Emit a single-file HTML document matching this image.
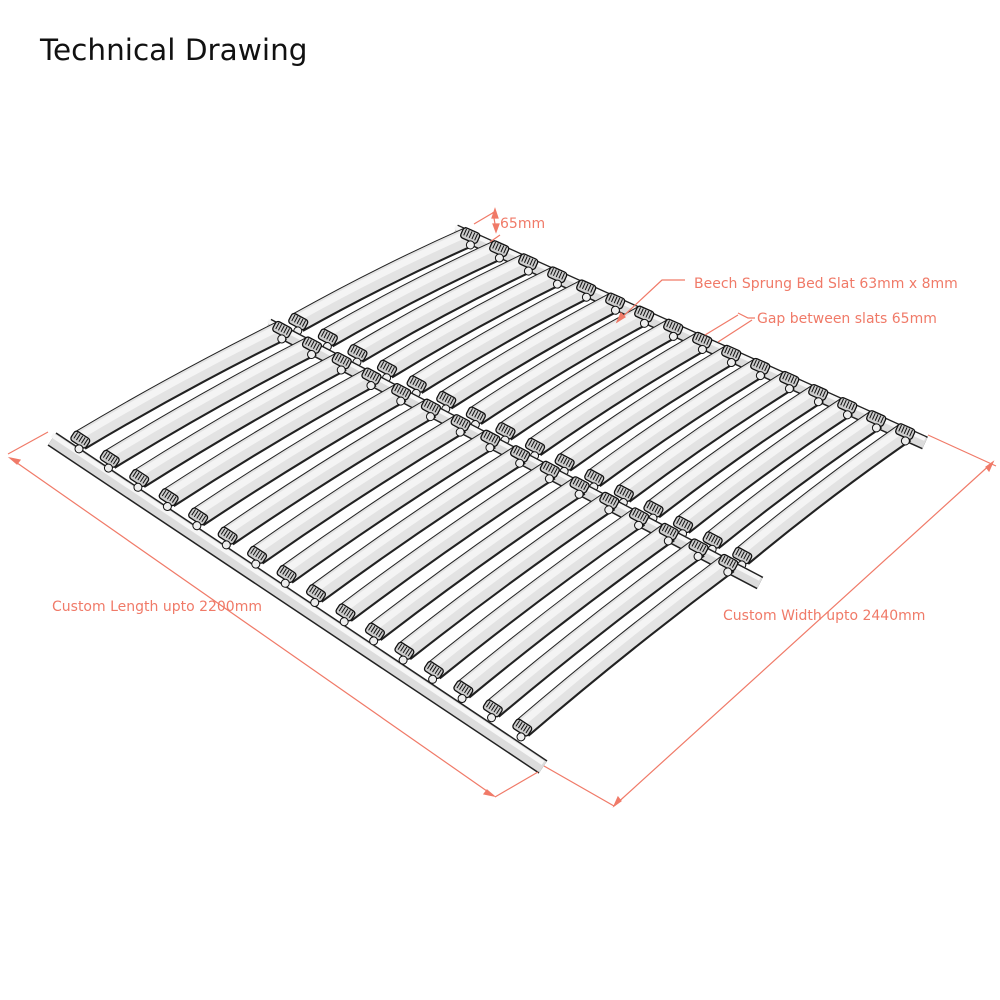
<!DOCTYPE html>
<html><head><meta charset="utf-8">
<style>
html,body{margin:0;padding:0;background:#fff;width:1000px;height:1000px;overflow:hidden}
.t{position:absolute;left:40px;top:33px;font-family:"DejaVu Sans","Liberation Sans",sans-serif;font-size:29.5px;color:#111}
svg{position:absolute;left:0;top:0}
</style></head><body>
<div class="t">Technical Drawing</div>
<svg id="s" width="1000" height="1000" viewBox="0 0 1000 1000" xmlns="http://www.w3.org/2000/svg">
<g id="g"></g>
<g fill="none" stroke="#f07a68" stroke-width="1.2">
<line x1="10" y1="458" x2="494" y2="796"/>
<line x1="8" y1="454" x2="48" y2="432"/>
<line x1="495" y1="797" x2="538" y2="772"/>
<polygon points="10,458 20,460 17,464" fill="#f07a68"/>
<polygon points="494,796 484,794 487,790" fill="#f07a68"/>
<line x1="614" y1="806" x2="993" y2="462"/>
<line x1="544" y1="766" x2="614" y2="806"/>
<line x1="928" y1="435" x2="996" y2="466"/>
<polygon points="614,806 618,797 621,801" fill="#f07a68"/>
<polygon points="993,462 989,471 986,467" fill="#f07a68"/>
<line x1="474" y1="224" x2="496" y2="211"/>
<line x1="490" y1="242" x2="500" y2="235"/>
<line x1="493" y1="212" x2="496" y2="230"/>
<polygon points="495,209 492,218 498,218" fill="#f07a68"/>
<polygon points="496,232 493,224 499,224" fill="#f07a68"/>
<polyline points="685,280 662,280 617,322"/>
<polygon points="617,322 621,313 625,317" fill="#f07a68"/>
<line x1="705" y1="335" x2="738" y2="315"/>
<line x1="718" y1="342" x2="752" y2="320"/>
<polyline points="738,313 748,318 755,318"/>
</g>
<g fill="#f07a68" font-family="DejaVu Sans, Liberation Sans, sans-serif" font-size="14">
<text x="500" y="228">65mm</text>
<text x="694" y="288">Beech Sprung Bed Slat 63mm x 8mm</text>
<text x="757" y="323">Gap between slats 65mm</text>
<text x="52" y="611">Custom Length upto 2200mm</text>
<text x="723" y="620">Custom Width upto 2440mm</text>
</g>
</svg>
<script>
var g=document.getElementById('g'),h='';
function L(a,b,t){return [a[0]+(b[0]-a[0])*t,a[1]+(b[1]-a[1])*t];}
function rail(a,b,w){
 h+='<line x1="'+a[0]+'" y1="'+(a[1]+3)+'" x2="'+b[0]+'" y2="'+(b[1]+3)+'" stroke="#222" stroke-width="'+(w+2)+'"/>';
 h+='<line x1="'+a[0]+'" y1="'+(a[1]+3)+'" x2="'+b[0]+'" y2="'+(b[1]+3)+'" stroke="#dcdcdc" stroke-width="'+(w-1)+'"/>';
 h+='<line x1="'+a[0]+'" y1="'+(a[1]-1)+'" x2="'+b[0]+'" y2="'+(b[1]-1)+'" stroke="#f6f6f6" stroke-width="'+(w/3)+'"/>';
}
function slat(a,b){
 var mx=(a[0]+b[0])/2-2,my=(a[1]+b[1])/2-4;
 var d='M'+a[0]+','+a[1]+' Q'+mx+','+my+' '+b[0]+','+b[1];
 h+='<path d="'+d+'" fill="none" stroke="#222" stroke-width="20" transform="translate(0.5,1)"/>';
 h+='<path d="'+d+'" fill="none" stroke="#222" stroke-width="20"/>';
 h+='<path d="'+d+'" fill="none" stroke="#e3e3e3" stroke-width="18"/>';
 h+='<path d="'+d+'" fill="none" stroke="#f4f4f4" stroke-width="7" transform="translate(-2,-3)"/>';
}
function tag(p,ang){
 h+='<g transform="translate('+p[0]+','+p[1]+') rotate('+ang+')"><rect x="-9" y="-6" width="18" height="11" rx="3" fill="#ccc" stroke="#111" stroke-width="1.3"/>';
 for(var k=-6;k<=6;k+=3)h+='<line x1="'+k+'" y1="-5" x2="'+k+'" y2="2" stroke="#111" stroke-width="1"/>';
 h+='<circle cx="4" cy="8" r="4" fill="#eee" stroke="#111" stroke-width="1"/></g>';
}
var N=16;
rail([455,228],[925,440],12);
for(var i=0;i<N;i++){var t=i/(N-1);
 slat(L([298,322],[742,556],t),L([470,236],[905,432],t));}
for(var i=0;i<N;i++){var t=i/(N-1);
 tag(L([470,236],[905,432],t),24);tag(L([298,322],[742,556],t),28);}
rail([268,322],[760,580],12);
for(var i=0;i<N;i++){var t=i/(N-1);
 slat(L([80,440],[522,728],t),L([282,330],[728,563],t));}
for(var i=0;i<N;i++){var t=i/(N-1);
 tag(L([282,330],[728,563],t),28);}
rail([52,436],[543,764],14);
for(var i=0;i<N;i++){var t=i/(N-1);tag(L([80,440],[522,728],t),33);}
g.innerHTML=h;
</script>
</body></html>
